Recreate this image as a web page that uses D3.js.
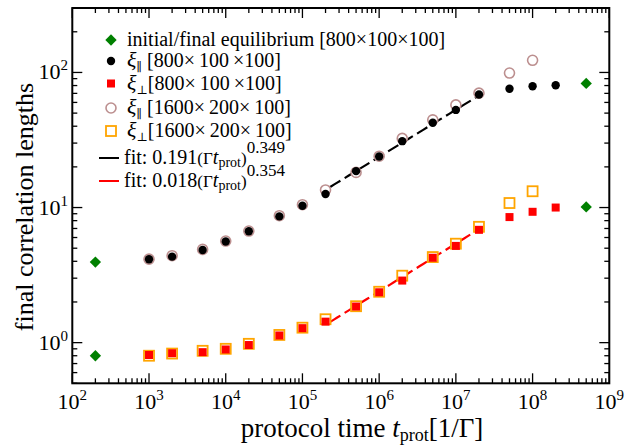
<!DOCTYPE html>
<meta charset="utf-8">
<style>
body { margin: 0; background: white; }
text { font-family: "Liberation Serif", "DejaVu Serif", serif; fill: black; }
</style>
<svg width="641" height="445"></svg>
<script src="https://d3js.org/d3.v7.min.js"></script>
<script>
// protocol times
var tEq = [200, 200, 5e8, 5e8];
var xiEq = [0.80, 3.95, 10.1, 83];

var t800 = [1e3, 2e3, 5e3, 1e4, 2e4, 5e4, 1e5, 2e5, 5e5, 1e6, 2e6, 5e6, 1e7, 2e7, 5e7, 1e8, 2e8];
var xiPar800 = [4.14, 4.33, 4.85, 5.6, 6.67, 8.6, 10.3, 12.6, 18.6, 23.9, 31, 42.4, 52.8, 68.7, 75.7, 79, 80.5];
var xiPerp800 = [0.81, 0.835, 0.85, 0.89, 0.96, 1.13, 1.28, 1.43, 1.85, 2.36, 2.88, 4.25, 5.2, 6.84, 8.5, 9.3, 10.0];

var t1600 = [1e3, 2e3, 5e3, 1e4, 2e4, 5e4, 1e5, 2e5, 5e5, 1e6, 2e6, 5e6, 1e7, 2e7, 5e7, 1e8];
var xiPar1600 = [4.15, 4.4, 4.9, 5.65, 6.7, 8.7, 10.5, 13.5, 18.2, 24, 32.5, 44.6, 57.5, 70.3, 99, 123];
var xiPerp1600 = [0.80, 0.83, 0.87, 0.90, 0.98, 1.14, 1.29, 1.49, 1.86, 2.38, 3.13, 4.3, 5.4, 7.2, 10.8, 13.2];

// fits: a * t^b, drawn over fitRange
var fitPar = {a: 0.191, b: 0.349};
var fitPerp = {a: 0.018, b: 0.354};
var fitRange = [2.3e5, 2e7];

var svg = d3.select("svg");
var mLeft = 72.3, mRight = 609.3, mTop = 8, mBottom = 383.3;

var x = d3.scaleLog().domain([1e2, 1e9]).range([mLeft, mRight]);
var y = d3.scaleLog().domain([0.5, 300]).range([mBottom, mTop]);

function isMajor(v) { return Math.abs(Math.log10(v) - Math.round(Math.log10(v))) < 1e-6; }

// ticks (inward on all 4 sides)
var tk = svg.append("g").attr("stroke", "black").attr("stroke-width", 1.3);
x.ticks().forEach(function(v) {
  var L = isMajor(v) ? 10 : 5, px = x(v);
  tk.append("line").attr("x1", px).attr("x2", px).attr("y1", mBottom).attr("y2", mBottom - L);
  tk.append("line").attr("x1", px).attr("x2", px).attr("y1", mTop).attr("y2", mTop + L);
});
y.ticks().forEach(function(v) {
  var L = isMajor(v) ? 10 : 5, py = y(v);
  tk.append("line").attr("y1", py).attr("y2", py).attr("x1", mLeft).attr("x2", mLeft + L);
  tk.append("line").attr("y1", py).attr("y2", py).attr("x1", mRight).attr("x2", mRight - L);
});

// tick labels
x.ticks().filter(isMajor).forEach(function(v) {
  var t = svg.append("text").attr("x", x(v)).attr("y", 409).attr("text-anchor", "middle").style("font-size", "22px");
  t.append("tspan").text("10");
  t.append("tspan").attr("dy", -9).style("font-size", "15px").text(Math.round(Math.log10(v)));
});
y.ticks().filter(isMajor).forEach(function(v) {
  var t = svg.append("text").attr("x", 68).attr("y", y(v) + 7).attr("text-anchor", "end").style("font-size", "22px");
  t.append("tspan").text("10");
  t.append("tspan").attr("dy", -9).style("font-size", "15px").text(Math.round(Math.log10(v)));
});

// axis titles
svg.append("text").attr("transform", "translate(33,207) rotate(-90)").attr("text-anchor", "middle")
  .style("font-size", "26px").text("final correlation lengths");
var xt = svg.append("text").attr("x", 362).attr("y", 437).attr("text-anchor", "middle").style("font-size", "27px");
xt.append("tspan").text("protocol time ");
xt.append("tspan").style("font-style", "italic").text("t");
xt.append("tspan").attr("dy", 4).style("font-size", "18px").text("prot");
xt.append("tspan").attr("dy", -4).text("[1/Γ]");

// fit lines
function fitData(f) {
  var lo = Math.log10(fitRange[0]), hi = Math.log10(fitRange[1]);
  return d3.range(0, 41).map(function(i) { var t = Math.pow(10, lo + (hi - lo) * i / 40); return [t, f.a * Math.pow(t, f.b)]; });
}
var line = d3.line().x(function(d) { return x(d[0]); }).y(function(d) { return y(d[1]); });
svg.append("path").attr("d", line(fitData(fitPar))).attr("fill", "none").attr("stroke", "black")
  .attr("stroke-width", 2.2).attr("stroke-dasharray", "12,5");
svg.append("path").attr("d", line(fitData(fitPerp))).attr("fill", "none").attr("stroke", "red")
  .attr("stroke-width", 2.2).attr("stroke-dasharray", "12,5");

// markers
function diamond(g, cx, cy) {
  g.append("rect").attr("x", -4).attr("y", -4).attr("width", 8).attr("height", 8)
    .attr("transform", "translate(" + cx + "," + cy + ") rotate(45)").attr("fill", "green");
}
function openCircle(g, cx, cy) {
  g.append("circle").attr("cx", cx).attr("cy", cy).attr("r", 5).attr("fill", "white").attr("stroke", "rosybrown").attr("stroke-width", 1.6);
}
function openSquare(g, cx, cy) {
  g.append("rect").attr("x", cx - 5).attr("y", cy - 5).attr("width", 10).attr("height", 10).attr("fill", "white").attr("stroke", "orange").attr("stroke-width", 1.8);
}
function dot(g, cx, cy) {
  g.append("circle").attr("cx", cx).attr("cy", cy).attr("r", 4.2).attr("fill", "black");
}
function redSquare(g, cx, cy) {
  g.append("rect").attr("x", cx - 4).attr("y", cy - 4).attr("width", 8).attr("height", 8).attr("fill", "red");
}

var mk = svg.append("g");
t1600.forEach(function(t, i) { openCircle(mk, x(t), y(xiPar1600[i])); });
t1600.forEach(function(t, i) { openSquare(mk, x(t), y(xiPerp1600[i])); });
t800.forEach(function(t, i) { dot(mk, x(t), y(xiPar800[i])); });
t800.forEach(function(t, i) { redSquare(mk, x(t), y(xiPerp800[i])); });
tEq.forEach(function(t, i) { diamond(mk, x(t), y(xiEq[i])); });

// frame
svg.append("rect").attr("x", mLeft).attr("y", mTop).attr("width", mRight - mLeft).attr("height", mBottom - mTop)
  .attr("fill", "none").attr("stroke", "black").attr("stroke-width", 2);

// legend
var lg = svg.append("g").style("font-size", "20px");
var lx = 111, tx = 127;
var rows = [40, 61, 83.5, 108, 131, 158, 181];
diamond(lg, lx, rows[0]);
dot(lg, lx, rows[1]);
redSquare(lg, lx, rows[2]);
openCircle(lg, lx, rows[3]);
openSquare(lg, lx, rows[4]);
lg.append("line").attr("x1", 99).attr("x2", 119).attr("y1", rows[5]).attr("y2", rows[5]).attr("stroke", "black").attr("stroke-width", 2);
lg.append("line").attr("x1", 99).attr("x2", 119).attr("y1", rows[6]).attr("y2", rows[6]).attr("stroke", "red").attr("stroke-width", 2);

lg.append("text").attr("x", tx).attr("y", rows[0] + 6).text("initial/final equilibrium [800×100×100]");
function xiLabel(yy, sub, size) {
  var t = lg.append("text").attr("x", tx).attr("y", yy + 6);
  t.append("tspan").style("font-style", "italic").style("font-size", "22px").text("ξ");
  t.append("tspan").attr("dy", 4).style("font-size", "12px").text(sub);
  t.append("tspan").attr("dy", -4).text(sub === "∥" ? " " + size : size);
}
xiLabel(rows[1], "∥", "[800×\u2009100\u2009×100]");
xiLabel(rows[2], "⊥", "[800×\u2009100\u2009×100]");
xiLabel(rows[3], "∥", "[1600×\u2009200×\u2009100]");
xiLabel(rows[4], "⊥", "[1600×\u2009200×\u2009100]");
function fitLabel(yy, f) {
  var t = lg.append("text").attr("x", 124).attr("y", yy + 6);
  t.append("tspan").text("fit: " + f.a.toFixed(3));
  t.append("tspan").style("font-size", "17px").text("(Γ");
  t.append("tspan").style("font-size", "20px").style("font-style", "italic").text("t");
  t.append("tspan").attr("dy", 3).style("font-size", "14px").text("prot");
  t.append("tspan").attr("dy", -3).style("font-size", "17px").text(")");
  t.append("tspan").attr("dy", -11).style("font-size", "17px").text(f.b.toFixed(3));
}
fitLabel(rows[5], fitPar);
fitLabel(rows[6], fitPerp);
</script>
